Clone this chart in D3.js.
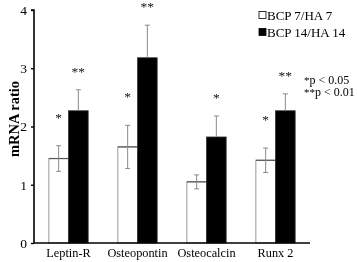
<!DOCTYPE html>
<html><head><meta charset="utf-8">
<script src="https://cdn.jsdelivr.net/npm/d3@7"></script>
<style>body{margin:0;background:#fff}svg{display:block;filter:grayscale(1)}.ast{font-variant-emoji:text}</style>
</head><body>
<svg id="c" width="358" height="262"></svg>
<script>
const categories = ["Leptin-R", "Osteopontin", "Osteocalcin", "Runx 2"];
const seriesNames = ["BCP 7/HA 7", "BCP 14/HA 14"];
const means7 = [1.45, 1.65, 1.05, 1.42];
const errs7 = [0.22, 0.37, 0.12, 0.21];
const means14 = [2.27, 3.18, 1.82, 2.27];
const errs14 = [0.36, 0.56, 0.36, 0.29];
const stars7 = ["*", "*", "", "*"];
const stars14 = ["**", "**", "*", "**"];
const yTicks = [0, 1, 2, 3, 4];
const sigNotes = ["*p < 0.05", "**p < 0.01"];

const svg = d3.select("#c");
const font = "'Liberation Serif', 'Times New Roman', serif";
const starFont = "'Liberation Serif', 'DejaVu Serif'";
const m = {l: 34, r: 48, t: 10, b: 19};
const W = 358, H = 262;
const x0 = d3.scaleBand().domain(categories).range([m.l, W - m.r]).paddingInner(0.43).paddingOuter(0.215);
const x1 = d3.scaleBand().domain(seriesNames).range([0, x0.bandwidth()]);
const y = d3.scaleLinear().domain([0, 4]).range([H - m.b, m.t]);
const vs = s => s.split("").map(ch => ch === "*" ? "*\uFE0E" : ch).join("");

const data = [];
categories.forEach((c, i) => {
  data.push({c, s: seriesNames[0], v: means7[i], e: errs7[i], star: stars7[i], k: 0});
  data.push({c, s: seriesNames[1], v: means14[i], e: errs14[i], star: stars14[i], k: 1});
});

// bars
const g = svg.append("g");
data.forEach(d => {
  const bx = x0(d.c) + x1(d.s), bw = x1.bandwidth();
  if (d.k === 0) {
    g.append("rect").attr("x", bx).attr("y", y(d.v)).attr("width", bw).attr("height", y(0) - y(d.v))
      .attr("fill", "#fff").attr("stroke", "#9a9a9a").attr("stroke-width", 1);
    g.append("line").attr("x1", bx).attr("x2", bx + bw).attr("y1", y(d.v)).attr("y2", y(d.v))
      .attr("stroke", "#555").attr("stroke-width", 1.2);
  } else {
    g.append("rect").attr("x", bx).attr("y", y(d.v)).attr("width", bw).attr("height", y(0) - y(d.v))
      .attr("fill", "#000").attr("stroke", "#333").attr("stroke-width", 0.8);
  }
});
// error bars
data.forEach(d => {
  const cx = x0(d.c) + x1(d.s) + x1.bandwidth() / 2;
  const lo = d.k === 0 ? d.v - d.e : d.v;
  const eg = g.append("g").attr("stroke", "#8a8a8a").attr("stroke-width", 1);
  eg.append("line").attr("x1", cx).attr("x2", cx).attr("y1", y(lo)).attr("y2", y(d.v + d.e));
  eg.append("line").attr("x1", cx - 2.5).attr("x2", cx + 2.5).attr("y1", y(d.v + d.e)).attr("y2", y(d.v + d.e));
  if (d.k === 0) eg.append("line").attr("x1", cx - 2.5).attr("x2", cx + 2.5).attr("y1", y(lo)).attr("y2", y(lo));
  if (d.star) {
    const gap = d.k === 0 ? 31 : 21;
    g.append("text").attr("class", "ast").attr("x", cx).attr("y", y(d.v + d.e) - gap + 7).attr("text-anchor", "middle")
      .attr("font-family", starFont).attr("font-size", 13.5).attr("fill", "#111").text(vs(d.star));
  }
});

// axes
const yAxis = svg.append("g").attr("transform", `translate(${m.l},0)`)
  .call(d3.axisLeft(y).tickValues(yTicks).tickSize(3).tickPadding(4).tickFormat(d3.format("d")));
yAxis.select(".domain").attr("stroke-width", 1.6).attr("d", `M-3,${y(4)}H0V${y(0)}`);
yAxis.selectAll(".tick line").attr("stroke-width", 1.4);
yAxis.selectAll("text").attr("font-family", font).attr("font-size", 13.5).attr("fill", "#000");

const xAxis = svg.append("g").attr("transform", `translate(0,${y(0)})`)
  .call(d3.axisBottom(x0).tickSize(0).tickPadding(5));
xAxis.select(".domain").attr("stroke-width", 1.6).attr("d", `M${m.l},0H${W - m.r}`);
xAxis.selectAll("text").attr("font-family", font).attr("font-size", 12.3).attr("fill", "#000");

svg.append("text").attr("transform", "translate(18.5,119) rotate(-90)").attr("text-anchor", "middle")
  .attr("font-family", font).attr("font-size", 14.5).attr("font-weight", "bold").text("mRNA ratio");

// legend
const lg = svg.append("g");
seriesNames.forEach((s, i) => {
  const ly = 19.5 + i * 17;
  lg.append("rect").attr("x", 259).attr("y", ly - 8).attr("width", 7).attr("height", 7)
    .attr("fill", i === 0 ? "#fff" : "#000").attr("stroke", "#000").attr("stroke-width", 0.8);
  lg.append("text").attr("x", 267).attr("y", ly).attr("font-family", font).attr("font-size", 13).text(s);
});
sigNotes.forEach((t, i) => {
  const star = t.match(/^\*+/)[0];
  const txt = svg.append("text").attr("x", 304).attr("y", 83.5 + i * 12.5).attr("font-family", font).attr("font-size", 12);
  txt.append("tspan").attr("class", "ast").attr("font-family", starFont).attr("font-size", 11).text(vs(star));
  txt.append("tspan").text(t.slice(star.length));
});
</script>
</body></html>
